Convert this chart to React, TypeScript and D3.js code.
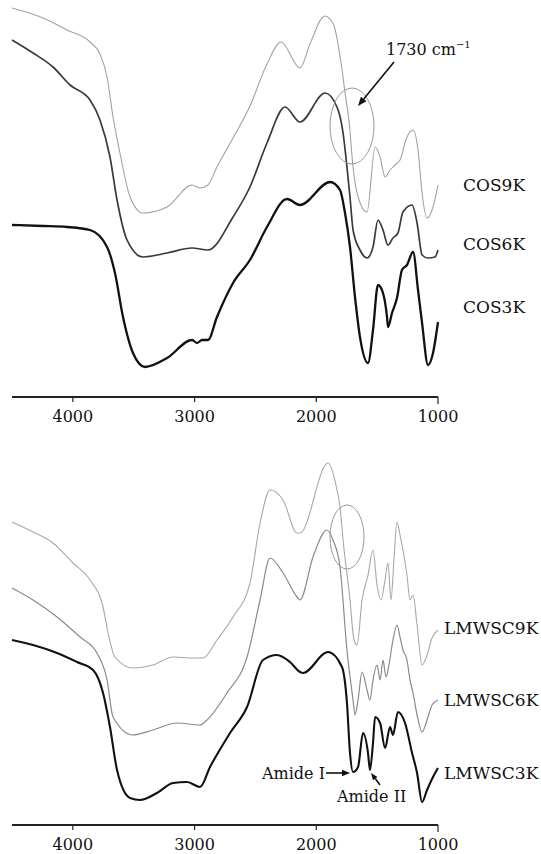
import React from 'react';
import * as d3 from 'd3';

const W = 541;
const H = 854;

const tickValues = [4000, 3000, 2000, 1000];

// [wavenumber cm-1, transmittance (arb. %)]
const COS9K: [number, number][] = [
  [4500, 98], [4245, 95.5], [4048, 92.5], [3859, 89.5], [3777, 86.5], [3719, 80.75],
  [3670, 70.75], [3613, 61.75], [3530, 50.75], [3424, 46.75], [3226, 48.25], [3021, 53.75],
  [2955, 53], [2890, 53.75], [2816, 58.25], [2684, 65.5], [2545, 73.5], [2405, 84], [2290, 89.5],
  [2134, 83], [2052, 89], [1930, 96], [1860, 94], [1800, 85], [1760, 76], [1730, 69.5],
  [1698, 58.25], [1665, 51.75], [1583, 47], [1517, 63.25], [1476, 60.75], [1435, 55.75], [1394, 57.5],
  [1353, 58.75], [1312, 60], [1255, 65.75], [1205, 67.5], [1164, 62.5], [1131, 51.75], [1090, 45.5],
  [1041, 48.25], [1000, 53.75],
];
const COS6K: [number, number][] = [
  [4500, 90], [4327, 86.75], [4163, 83.25], [4023, 78.75], [3859, 75], [3777, 70], [3695, 60.75],
  [3637, 50], [3555, 40], [3424, 35.75], [3226, 36.75], [3021, 38], [2890, 37.5], [2684, 45.75],
  [2545, 53.25], [2405, 64.25], [2257, 73.25], [2134, 69.5], [1928, 76.75], [1830, 73.25], [1780, 66.75],
  [1748, 58.25], [1723, 50.75], [1698, 42.5], [1641, 37.5], [1583, 35.5], [1534, 38.25], [1493, 45],
  [1452, 42.5], [1411, 38.75], [1370, 40.5], [1329, 41.75], [1288, 47], [1213, 48.75], [1172, 44.25],
  [1131, 36.25], [1082, 35.5], [1024, 35.75], [1000, 37.5],
];
const COS3K: [number, number][] = [
  [4500, 43.75], [4245, 43.5], [4048, 43.25], [3859, 42.5], [3719, 38.25], [3654, 31.75], [3588, 20.75],
  [3506, 11.75], [3407, 8.25], [3226, 10.5], [3021, 15], [2980, 14.25], [2939, 15], [2890, 15],
  [2816, 20.75], [2684, 29.25], [2545, 35], [2405, 43.25], [2240, 50.25], [2134, 48.75], [1887, 54.5],
  [1805, 52.5], [1764, 46.75], [1723, 38.25], [1682, 25.75], [1641, 15.75], [1575, 9.25], [1534, 17.5],
  [1493, 28.75], [1452, 26.75], [1419, 20.75], [1411, 18.25], [1378, 21.75], [1337, 25.5], [1296, 32.5],
  [1255, 33.75], [1205, 37], [1164, 27.5], [1131, 19.25], [1082, 8.75], [1041, 11.75], [1000, 19.5],
];

const LMWSC9K: [number, number][] = [
  [4500, 77], [4327, 74.5], [4163, 71.75], [3999, 66.75], [3859, 62.5], [3752, 55.75], [3711, 49.25],
  [3654, 43.25], [3506, 40.5], [3342, 41.25], [3177, 43.25], [3013, 43], [2931, 43], [2816, 47.5],
  [2684, 53.25], [2545, 61.75], [2462, 76.75], [2380, 85], [2273, 82.5], [2158, 74.25], [2134, 74.25],
  [1904, 91.75], [1830, 85], [1805, 80.75], [1780, 72.5], [1723, 57.5], [1690, 47.5], [1665, 46.25],
  [1624, 57.5], [1575, 63.75], [1534, 70], [1501, 61.25], [1468, 57.5], [1435, 62.5], [1411, 66.75],
  [1386, 57.5], [1362, 67.5], [1337, 77], [1312, 73.75], [1288, 70], [1255, 63.75], [1230, 57.5],
  [1205, 58.75], [1172, 51.25], [1131, 41.25], [1090, 43.75], [1049, 48], [1000, 50],
];
const LMWSC6K: [number, number][] = [
  [4500, 60.5], [4327, 57.5], [4130, 53.25], [3941, 48.25], [3802, 44.25], [3719, 37.5], [3670, 28.25],
  [3506, 23.75], [3342, 25], [3144, 26.75], [2955, 26.25], [2898, 27.5], [2734, 34.25], [2569, 43.25],
  [2462, 57.5], [2380, 68], [2273, 64.25], [2158, 58.25], [2134, 57.5], [2027, 68.25], [1912, 75],
  [1863, 72.5], [1805, 65.75], [1748, 45], [1698, 32.5], [1682, 28.75], [1657, 32.5], [1624, 39.5],
  [1583, 35], [1559, 32.5], [1534, 37.5], [1501, 41.25], [1476, 37.5], [1452, 42.5], [1427, 38.25],
  [1403, 41.25], [1370, 47.5], [1337, 51.25], [1312, 48.25], [1288, 45], [1255, 42.5], [1230, 37.5],
  [1205, 34.25], [1172, 28.75], [1131, 24.5], [1090, 27.5], [1049, 31.25], [1000, 32.5],
];
const LMWSC3K: [number, number][] = [
  [4500, 47.5], [4327, 46.25], [4130, 44.25], [3966, 42], [3834, 40], [3752, 34.25], [3695, 25.75],
  [3637, 15], [3530, 8], [3448, 7.5], [3309, 9.25], [3177, 11.75], [3062, 12], [2955, 10.75],
  [2873, 15.75], [2709, 24.25], [2569, 30.75], [2438, 42.5], [2323, 43.75], [2216, 42], [2134, 39.5],
  [2109, 39.25], [1904, 44.5], [1789, 40.75], [1748, 31.75], [1723, 19.25], [1698, 14.5], [1657, 15.75],
  [1616, 24.25], [1575, 19.25], [1559, 15], [1534, 21.75], [1517, 28.25], [1476, 26.75], [1435, 20.5],
  [1394, 25.75], [1370, 23.75], [1329, 29.5], [1271, 26.75], [1213, 19.25], [1172, 14.25], [1131, 7],
  [1090, 10], [1041, 13.25], [1000, 15.5],
];

const topLabels = ['COS9K', 'COS6K', 'COS3K'];
const bottomLabels = ['LMWSC9K', 'LMWSC6K', 'LMWSC3K'];

const FONT = "'DejaVu Serif', 'Liberation Serif', serif";

const x = d3.scaleLinear().domain([4500, 1000]).range([12, 438]);
const yTop = d3.scaleLinear().domain([0, 100]).range([400, 0]);
const yBot = d3.scaleLinear().domain([0, 100]).range([830, 430]);

function Axis({ y }: { y: number }) {
  const [a, b] = x.range();
  return (
    <g>
      <line x1={a} x2={b} y1={y} y2={y} stroke="#222" strokeWidth={2} />
      {tickValues.map((t) => (
        <g key={t}>
          <line x1={x(t)} x2={x(t)} y1={y} y2={y + (t === 1000 ? 7 : 5)} stroke="#222" strokeWidth={1.2} />
          <text x={x(t)} y={y + 25} textAnchor="middle" fontFamily={FONT} fontSize={16} fill="#111">
            {t}
          </text>
        </g>
      ))}
    </g>
  );
}

function Arrow({ x1, y1, x2, y2, head = 8 }: { x1: number; y1: number; x2: number; y2: number; head?: number }) {
  const ang = Math.atan2(y2 - y1, x2 - x1);
  const hx = x2 - head * Math.cos(ang);
  const hy = y2 - head * Math.sin(ang);
  const w = head * 0.4;
  const p1 = [hx + w * Math.sin(ang), hy - w * Math.cos(ang)];
  const p2 = [hx - w * Math.sin(ang), hy + w * Math.cos(ang)];
  return (
    <g>
      <line x1={x1} y1={y1} x2={hx} y2={hy} stroke="#111" strokeWidth={1.6} />
      <polygon points={`${x2},${y2} ${p1[0]},${p1[1]} ${p2[0]},${p2[1]}`} fill="#111" />
    </g>
  );
}

export default function App() {
  const lineTop = d3.line<[number, number]>().x((d) => x(d[0])).y((d) => yTop(d[1])).curve(d3.curveMonotoneX);
  const lineBot = d3.line<[number, number]>().x((d) => x(d[0])).y((d) => yBot(d[1])).curve(d3.curveMonotoneX);

  const topSeries = [
    { data: COS9K, stroke: '#a2a2a2', w: 1.1, label: topLabels[0], ly: 191 },
    { data: COS6K, stroke: '#3a3a3a', w: 1.7, label: topLabels[1], ly: 250 },
    { data: COS3K, stroke: '#111', w: 2.3, label: topLabels[2], ly: 313 },
  ];
  const botSeries = [
    { data: LMWSC9K, stroke: '#a8a8a8', w: 1.1, label: bottomLabels[0], ly: 634 },
    { data: LMWSC6K, stroke: '#8a8a8a', w: 1.2, label: bottomLabels[1], ly: 706 },
    { data: LMWSC3K, stroke: '#111', w: 2.1, label: bottomLabels[2], ly: 779 },
  ];

  return (
    <svg width={W} height={H} style={{ position: 'absolute', left: 0, top: 0, background: '#fff' }}>
      <rect width={W} height={H} fill="#fff" />
      {topSeries.map((s) => (
        <path key={s.label} d={lineTop(s.data) || ''} fill="none" stroke={s.stroke} strokeWidth={s.w} strokeLinejoin="round" />
      ))}
      {topSeries.map((s) => (
        <text key={s.label + 't'} x={463} y={s.ly} fontFamily={FONT} fontSize={17} fill="#111">
          {s.label}
        </text>
      ))}
      <ellipse cx={352} cy={126} rx={22} ry={38} fill="none" stroke="#999" strokeWidth={1} />
      <Arrow x1={394} y1={62} x2={358} y2={106} head={9} />
      <text x={386} y={55} fontFamily={FONT} fontSize={16} fill="#111">
        1730 cm<tspan dy={-7} fontSize={10}>−1</tspan>
      </text>
      <Axis y={397} />

      {botSeries.map((s) => (
        <path key={s.label} d={lineBot(s.data) || ''} fill="none" stroke={s.stroke} strokeWidth={s.w} strokeLinejoin="round" />
      ))}
      {botSeries.map((s) => (
        <text key={s.label + 't'} x={444} y={s.ly} fontFamily={FONT} fontSize={17} fill="#111">
          {s.label}
        </text>
      ))}
      <ellipse cx={347} cy={537} rx={17} ry={32} fill="none" stroke="#999" strokeWidth={1} />
      <text x={262} y={779} fontFamily={FONT} fontSize={16} fill="#111">Amide I</text>
      <Arrow x1={326} y1={773} x2={350} y2={773} head={8} />
      <text x={337} y={802} fontFamily={FONT} fontSize={16} fill="#111">Amide II</text>
      <Arrow x1={380} y1={785} x2={371} y2={773} head={7} />
      <Axis y={825} />
    </svg>
  );
}
